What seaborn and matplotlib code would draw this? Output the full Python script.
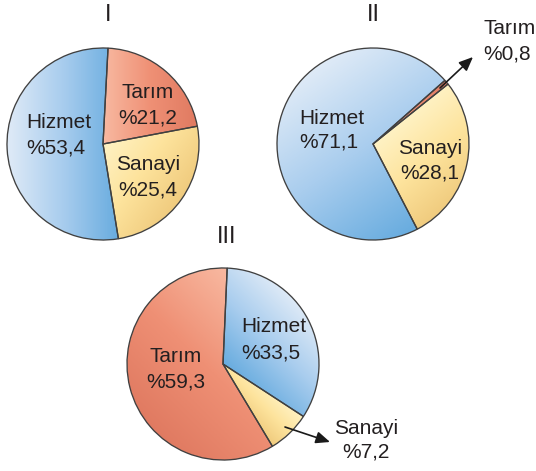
import numpy as np
import matplotlib
matplotlib.use("Agg")
import matplotlib.pyplot as plt
import seaborn as sns

# Sector shares (%) of employment for three country groups
groups = ["I", "II", "III"]
sectors = ["Hizmet", "Tarım", "Sanayi"]
shares_I = [53.4, 21.2, 25.4]
shares_II = [71.1, 0.8, 28.1]
shares_III = [33.5, 59.3, 7.2]

sns.set_theme(style="white")
plt.rcParams["font.family"] = ["Liberation Sans", "DejaVu Sans"]

W, H = 536, 471
fig = plt.figure(figsize=(W / 100, H / 100), dpi=100)
ax = fig.add_axes([0, 0, 1, 1])

# light -> dark colour ramps per sector
ramps = {
    "Hizmet": sns.blend_palette(["#e0ebf7", "#a9cdee", "#68acdf"], n_colors=256, as_cmap=True),
    "Tarım": sns.blend_palette(["#f8b9a1", "#ef9075", "#e07a61"], n_colors=256, as_cmap=True),
    "Sanayi": sns.blend_palette(["#fff2c4", "#fde39c", "#f0cb7e"], n_colors=256, as_cmap=True),
}

R = 96


def fmt(v):
    return "%" + f"{v:.1f}".replace(".", ",")


def draw_pie(shares, order, center_px, start, grad_dirs):
    cx, cy = center_px[0], H - center_px[1]
    vals = [shares[sectors.index(s)] for s in order]
    wedges, _ = ax.pie(vals, startangle=start, counterclock=False,
                       center=(cx, cy), radius=R, colors=["none"] * len(vals),
                       wedgeprops=dict(edgecolor="#404040", linewidth=0.95),
                       frame=True)
    for w, s in zip(wedges, order):
        w.set_zorder(3)
        verts = w.get_path().vertices
        x0, y0 = verts.min(axis=0)
        x1, y1 = verts.max(axis=0)
        a = np.deg2rad(grad_dirs[s])
        ux, uy = np.cos(a), np.sin(a)
        proj = verts[:, 0] * ux + verts[:, 1] * uy
        pmin, pmax = proj.min(), proj.max()
        xs = np.linspace(x0, x1, 200)
        ys = np.linspace(y0, y1, 200)
        X, Y = np.meshgrid(xs, ys)
        t = (X * ux + Y * uy - pmin) / max(pmax - pmin, 1e-9)
        im = ax.imshow(np.clip(t, 0, 1), cmap=ramps[s], vmin=0, vmax=1,
                       extent=(x0, x1, y0, y1), origin="lower",
                       interpolation="bilinear", zorder=2)
        im.set_clip_path(w)


draw_pie(shares_I, ["Tarım", "Sanayi", "Hizmet"], (103, 144), 87,
         {"Hizmet": 0, "Tarım": 0, "Sanayi": -35})
draw_pie(shares_II, ["Tarım", "Sanayi", "Hizmet"], (373, 144), 41.5,
         {"Hizmet": -55, "Tarım": 0, "Sanayi": -50})
draw_pie(shares_III, ["Hizmet", "Sanayi", "Tarım"], (223, 364), 87.5,
         {"Hizmet": -135, "Tarım": -135, "Sanayi": -135})

txt = dict(color="#231f20", va="center", fontsize=15, zorder=5)


def label(name, shares, x, y, gap=25, ha="center"):
    v = shares[sectors.index(name)]
    ax.text(x, H - y, name, ha=ha, **txt)
    ax.text(x, H - y - gap, fmt(v), ha=ha, **txt)


# group titles
for g, (x, y) in zip(groups, [(108, 15), (373, 15), (227, 237)]):
    ax.text(x, H - y, g, color="#231f20", ha="center", va="center",
            fontsize=17, zorder=5)

label("Hizmet", shares_I, 26, 122, 26, ha="left")
label("Tarım", shares_I, 148, 92, 26)
label("Sanayi", shares_I, 148, 165, 25)

label("Hizmet", shares_II, 299, 118, 24, ha="left")
label("Sanayi", shares_II, 430, 148, 25)
label("Tarım", shares_II, 483, 29, 25, ha="left")

label("Tarım", shares_III, 176, 356, 26)
label("Hizmet", shares_III, 241, 327, 26, ha="left")
label("Sanayi", shares_III, 366, 428, 24)

arrow = dict(arrowstyle="-|>,head_length=0.7,head_width=0.3",
             color="#1a1a1a", lw=1.2, shrinkA=0, shrinkB=0)
ax.annotate("", xy=(473, H - 57), xytext=(440, H - 88), arrowprops=arrow,
            zorder=6)
ax.annotate("", xy=(330, H - 442), xytext=(285, H - 427), arrowprops=arrow,
            zorder=6)

ax.set_xlim(0, W)
ax.set_ylim(0, H)
ax.set_aspect("equal")
ax.set_axis_off()

fig.savefig("out.png", dpi=100, facecolor="white")
